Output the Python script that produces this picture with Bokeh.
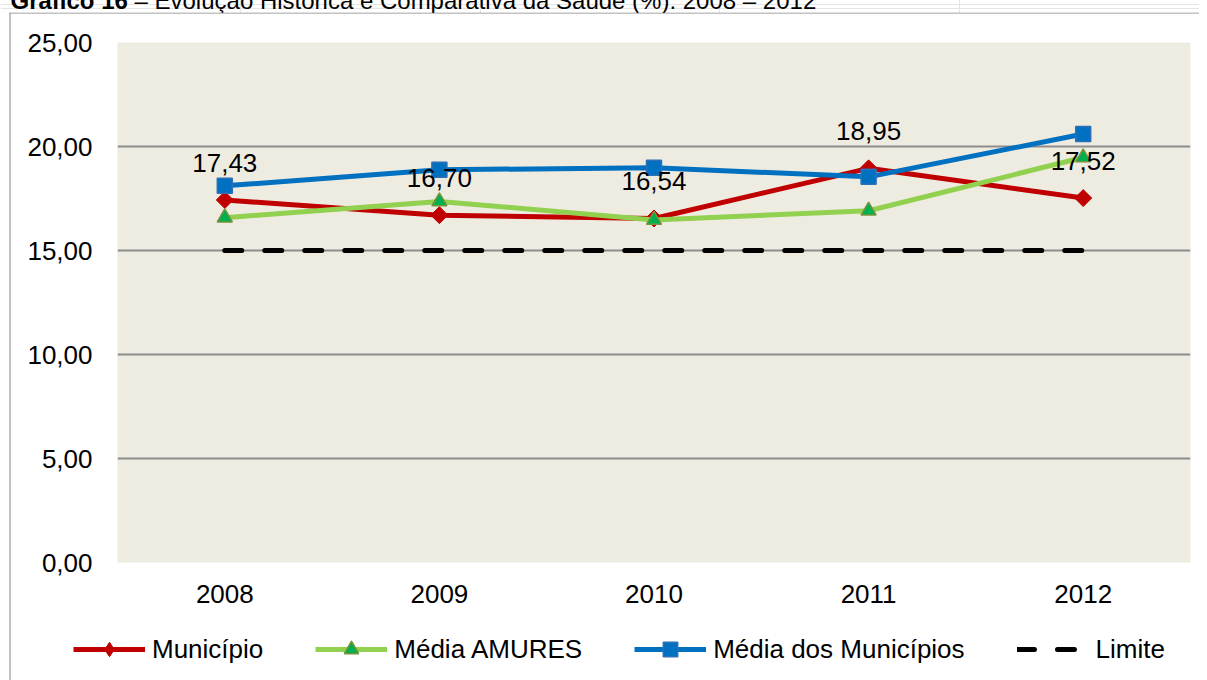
import math
from bokeh.plotting import figure
from bokeh.models import (Range1d, FactorRange, FixedTicker, Legend, LegendItem,
                          LabelSet, ColumnDataSource, Label, BoxAnnotation)
from bokeh.embed import file_html
from bokeh.resources import INLINE
from bokeh.core.properties import value

# ---------------- data ----------------
years = ["2008", "2009", "2010", "2011", "2012"]
municipio = [17.43, 16.70, 16.54, 18.95, 17.52]
media_amures = [16.58, 17.36, 16.47, 16.91, 19.47]
media_municipios = [18.11, 18.88, 18.98, 18.54, 20.60]
limite = [15.0, 15.0, 15.0, 15.0, 15.0]
y_ticks = [0, 5, 10, 15, 20, 25]
series_names = ["Município", "Média AMURES", "Média dos Municípios", "Limite"]
title_bold = "Gráfico 16"
title_rest = "– Evolução Histórica e Comparativa da Saúde (%): 2008 – 2012"

FONT = "Liberation Sans"
FS = "26px"
BOX = "#868686"

def br(v):
    return f"{v:.2f}".replace(".", ",")

def draw_series(fig, mun_marker="square", mun_angle=math.pi / 4, mun_size=12):
    rs = {}
    rs["mun"] = [fig.line(years, municipio, line_color="#C00000", line_width=5),
                 fig.scatter(years, municipio, marker=mun_marker, angle=mun_angle,
                             size=mun_size, fill_color="#C00000", line_color="#C00000")]
    rs["amu"] = [fig.line(years, media_amures, line_color="#92D050", line_width=5),
                 fig.scatter(years, media_amures, marker="triangle", size=15,
                             fill_color="#00B050", line_color="#77933C", line_width=1.5)]
    rs["mm"] = [fig.line(years, media_municipios, line_color="#0070C0", line_width=5),
                fig.scatter(years, media_municipios, marker="square", size=15,
                            fill_color="#0070C0", line_color="#2F6FB5", line_width=1.5)]
    rs["lim"] = [fig.line(years, limite, line_color="black", line_width=5,
                          line_dash="17 23", line_cap="round")]
    return rs

# ---------------- title strip (text cut at the top, as in the source) ----------------
tf = figure(width=1199, height=23, x_range=Range1d(0, 1), y_range=Range1d(0, 1),
            min_border=0, x_axis_location=None, y_axis_location=None,
            output_backend="svg", toolbar_location=None,
            border_fill_color=None, background_fill_color=None, outline_line_color=None)
tf.margin = (-10, 0, 0, 0)
tf.add_layout(Label(x=10, y=13, x_units="screen", y_units="screen", text=title_bold,
                    text_font=FONT, text_font_size="24px", text_font_style="bold",
                    text_baseline="alphabetic", text_color="black"))
tf.add_layout(Label(x=134, y=13, x_units="screen", y_units="screen", text=title_rest,
                    text_font=FONT, text_font_size="24px",
                    text_baseline="alphabetic", text_color="black"))

# ---------------- main chart ----------------
p = figure(x_range=FactorRange(*years), y_range=Range1d(0, 25),
           frame_width=1073, frame_height=520,
           min_border_left=107, min_border_right=9, min_border_top=29, min_border_bottom=60,
           output_backend="svg", toolbar_location=None,
           background_fill_color="#EEECE1", border_fill_color="white",
           outline_line_color=None)
p.margin = (0, 0, 0, 10)

p.yaxis.ticker = FixedTicker(ticks=y_ticks)
p.yaxis.major_label_overrides = {t: br(t) for t in y_ticks}
for ax in (p.xaxis[0], p.yaxis[0]):
    ax.axis_line_color = None
    ax.major_tick_line_color = None
    ax.minor_tick_line_color = None
    ax.major_tick_out = 0
    ax.major_tick_in = 0
    ax.minor_tick_out = 0
    ax.major_label_text_font = FONT
    ax.major_label_text_font_size = FS
    ax.major_label_text_color = "black"
p.yaxis.major_label_standoff = 25
p.xaxis.major_label_standoff = 22
p.xgrid.grid_line_color = None
p.ygrid.grid_line_color = "#8C8C8C"
p.ygrid.grid_line_width = 2

draw_series(p)

src = ColumnDataSource(dict(x=years, y=municipio, text=[br(v) for v in municipio]))
p.add_layout(LabelSet(x="x", y="y", text="text", source=src, text_align="center",
                      text_baseline="middle", y_offset=37, text_font=value(FONT),
                      text_font_size=value(FS), text_color="black"))

# ---------------- transparent overlay: outer chart box + legend ----------------
LH = 668
lf = figure(width=1199, height=LH, x_range=FactorRange(*years), y_range=Range1d(100, 101),
            min_border=0, x_axis_location=None, y_axis_location=None,
            output_backend="svg", toolbar_location=None,
            border_fill_color=None, background_fill_color=None, outline_line_color=None)
lf.margin = (-610, 0, 0, 0)
lf.xgrid.visible = False
lf.ygrid.visible = False
# outer chart box: left edge and top edge (the others lie outside the picture)
lf.add_layout(BoxAnnotation(left=9, right=10, top=0, bottom=LH,
                            left_units="canvas", right_units="canvas",
                            top_units="canvas", bottom_units="canvas",
                            fill_color=BOX, fill_alpha=1, line_color=None))
lf.add_layout(BoxAnnotation(left=9, right=1199, top=0, bottom=1,
                            left_units="canvas", right_units="canvas",
                            top_units="canvas", bottom_units="canvas",
                            fill_color=BOX, fill_alpha=1, line_color=None))
# same series, outside this overlay's y range: they serve only as the legend keys
lr = draw_series(lf, mun_marker="diamond", mun_angle=0, mun_size=18)
items = [LegendItem(label=series_names[0], renderers=lr["mun"]),
         LegendItem(label=series_names[1], renderers=lr["amu"]),
         LegendItem(label=series_names[2], renderers=lr["mm"]),
         LegendItem(label=series_names[3], renderers=lr["lim"])]
lf.add_layout(Legend(items=items, location=(73, 13), orientation="horizontal",
                     spacing=52, glyph_width=72, glyph_height=36, label_standoff=7,
                     padding=0, margin=0, border_line_color=None, background_fill_alpha=0,
                     label_text_font=FONT, label_text_font_size=FS,
                     label_text_color="black"))

open("out.html", "w").write(file_html([tf, p, lf], INLINE))
